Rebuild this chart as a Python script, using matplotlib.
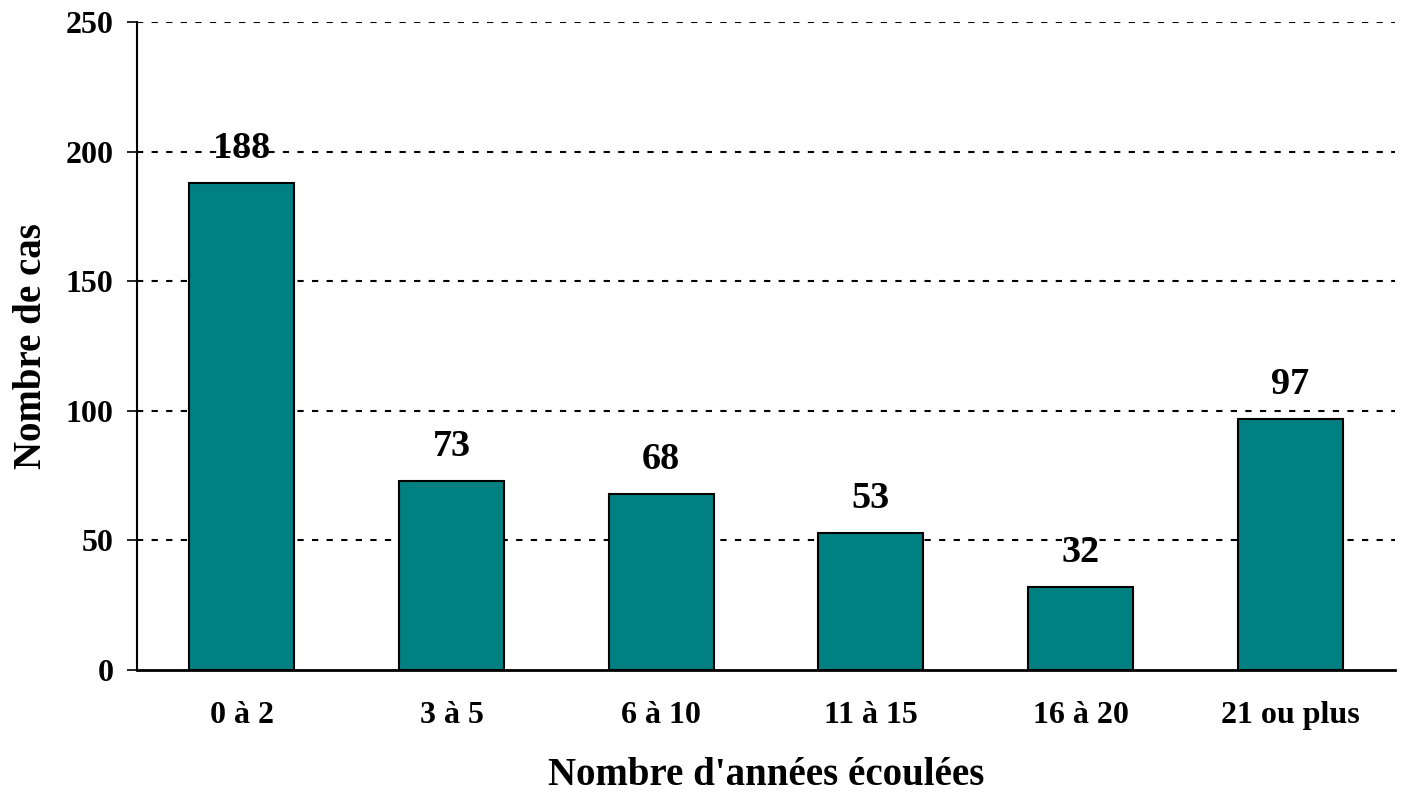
import numpy as np
import matplotlib
matplotlib.use("Agg")
import matplotlib.pyplot as plt

# data
categories = ["0 à 2", "3 à 5", "6 à 10", "11 à 15", "16 à 20", "21 ou plus"]
counts = [188, 73, 68, 53, 32, 97]
y_ticks = [0, 50, 100, 150, 200, 250]

plt.rcParams['font.family'] = ['Liberation Serif', 'DejaVu Serif']
plt.rcParams['font.weight'] = 'bold'

fig = plt.figure(figsize=(14.04, 7.96), dpi=100)
ax = fig.add_axes([0.0976, 0.1583, 0.8960, 0.8141])

x = np.arange(len(categories))
bars = ax.bar(x, counts, width=0.5, color='#008080', edgecolor='black',
              linewidth=1.5, zorder=3)

# value labels above the bars
for xi, v in zip(x, counts):
    ax.annotate(str(v), (xi, v), xytext=(0, 12), textcoords='offset points',
                ha='center', va='bottom', fontsize=27.5, fontweight='bold')

ax.set_xlim(-0.5, len(categories) - 0.5)
ax.set_ylim(0, 250)
ax.set_yticks(y_ticks)
ax.set_yticklabels([str(t) for t in y_ticks], fontsize=23, fontweight='bold')
ax.set_xticks(x)
ax.set_xticklabels(categories, fontsize=23, fontweight='bold')
ax.tick_params(axis='x', length=0, pad=22)
ax.tick_params(axis='y', length=7, width=1.2, direction='out', pad=10)

# dotted grid lines, skipping 0
for t in y_ticks[1:]:
    ax.axhline(t, color='black', linestyle=(0, (3, 4)), linewidth=1.5, zorder=1)

ax.spines['top'].set_visible(False)
ax.spines['right'].set_visible(False)
ax.spines['left'].set_linewidth(1.5)
ax.spines['bottom'].set_linewidth(2)
ax.spines['bottom'].set_zorder(4)

ax.set_xlabel("Nombre d'années écoulées", fontsize=28, fontweight='bold', labelpad=20)
ax.set_ylabel("Nombre de cas", fontsize=28, fontweight='bold', labelpad=11)

fig.savefig("out.png", dpi=100)
